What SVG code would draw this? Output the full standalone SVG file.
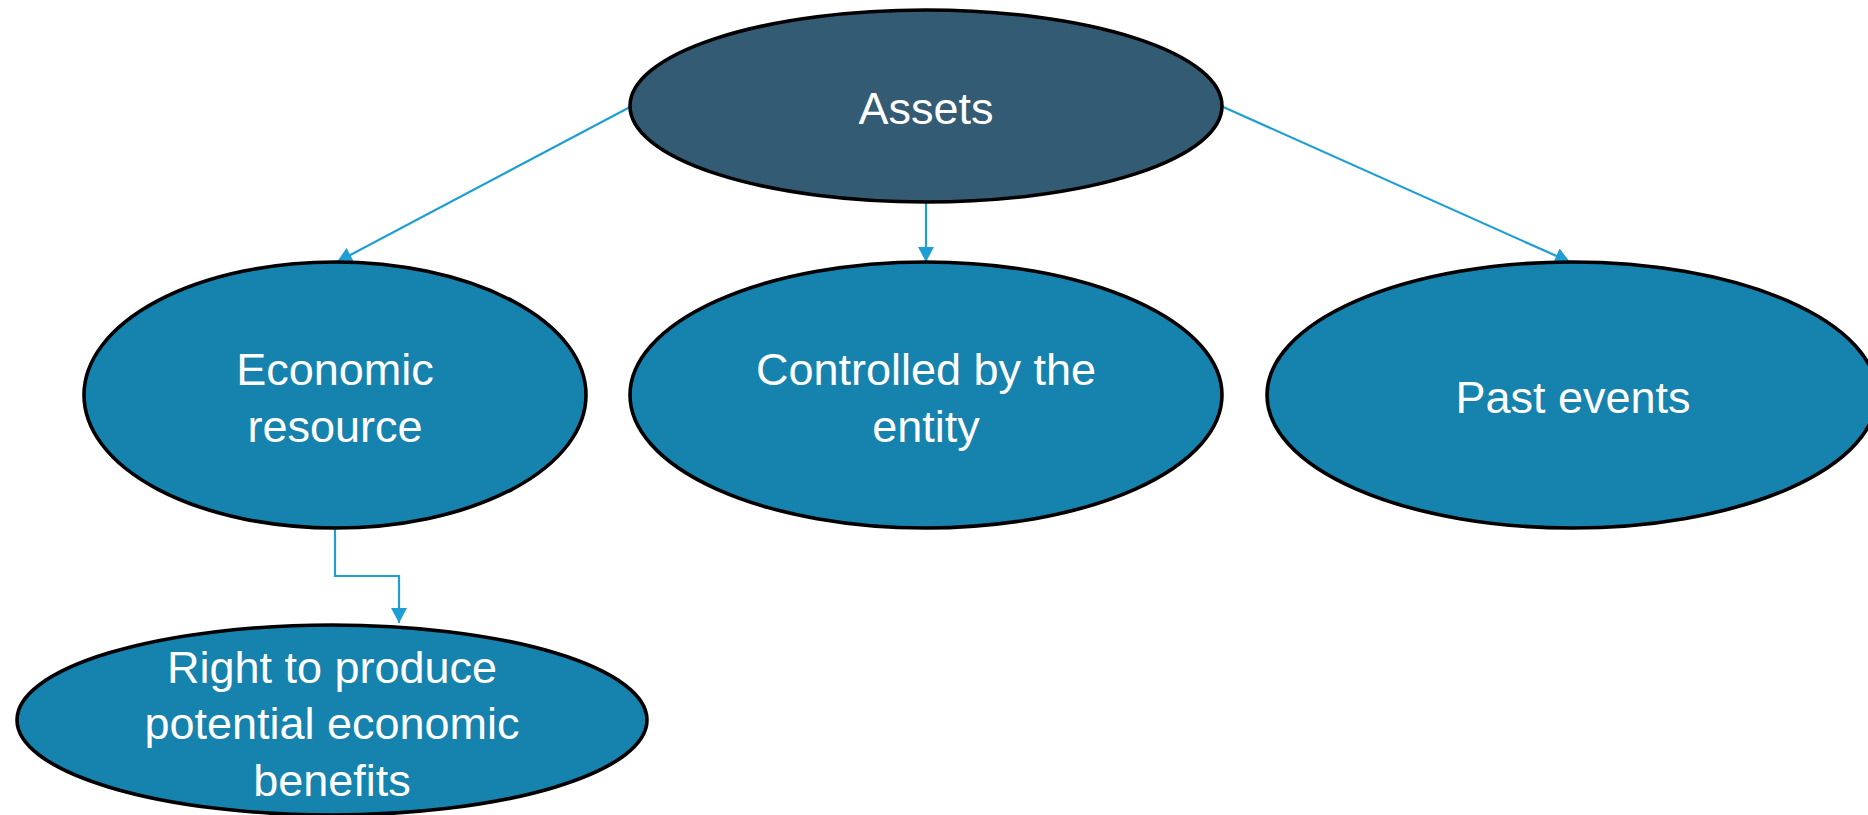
<svg xmlns="http://www.w3.org/2000/svg" width="1868" height="815" viewBox="0 0 1868 815">
  <style>
    .node { stroke: #000; stroke-width: 3.6; }
    .root { fill: #335B73; }
    .child { fill: #1682AE; }
    .lbl { font-family: "Liberation Sans", Arial, sans-serif; font-size: 45px; fill: #FFFFFF; text-anchor: middle; }
    .conn { fill: none; stroke: #1E9ED2; stroke-width: 2.2; marker-end: url(#arrow); }
  </style>
  <defs>
    <marker id="arrow" markerUnits="userSpaceOnUse" markerWidth="18" markerHeight="16" viewBox="0 0 15 16" refX="15" refY="8" orient="auto">
      <path d="M0,0 L15,8 L0,16 Z" fill="#1E9ED2"/>
    </marker>
  </defs>
  <rect width="1868" height="815" fill="#FFFFFF"/>
  <g id="connectors">
    <line class="conn" x1="632" y1="106" x2="337" y2="262"/>
    <line class="conn" x1="926" y1="202" x2="926" y2="262"/>
    <line class="conn" x1="1221" y1="106" x2="1570" y2="262"/>
    <polyline class="conn" points="335,528 335,576 399,576 399,623"/>
  </g>
  <g id="node-assets">
    <ellipse class="node root" cx="926" cy="106" rx="296" ry="96"/>
    <text class="lbl" x="926" y="124">Assets</text>
  </g>
  <g id="node-economic-resource">
    <ellipse class="node child" cx="335" cy="395" rx="251" ry="133"/>
    <text class="lbl" x="335" y="385">Economic</text>
    <text class="lbl" x="335" y="442">resource</text>
  </g>
  <g id="node-controlled">
    <ellipse class="node child" cx="926" cy="395" rx="296" ry="133"/>
    <text class="lbl" x="926" y="385">Controlled by the</text>
    <text class="lbl" x="926" y="442">entity</text>
  </g>
  <g id="node-past-events">
    <ellipse class="node child" cx="1572" cy="395" rx="305" ry="133"/>
    <text class="lbl" x="1573" y="413">Past events</text>
  </g>
  <g id="node-right-to-produce">
    <ellipse class="node child" cx="332" cy="720" rx="315" ry="95"/>
    <text class="lbl" x="332" y="683">Right to produce</text>
    <text class="lbl" x="332" y="739">potential economic</text>
    <text class="lbl" x="332" y="796">benefits</text>
  </g>
</svg>
